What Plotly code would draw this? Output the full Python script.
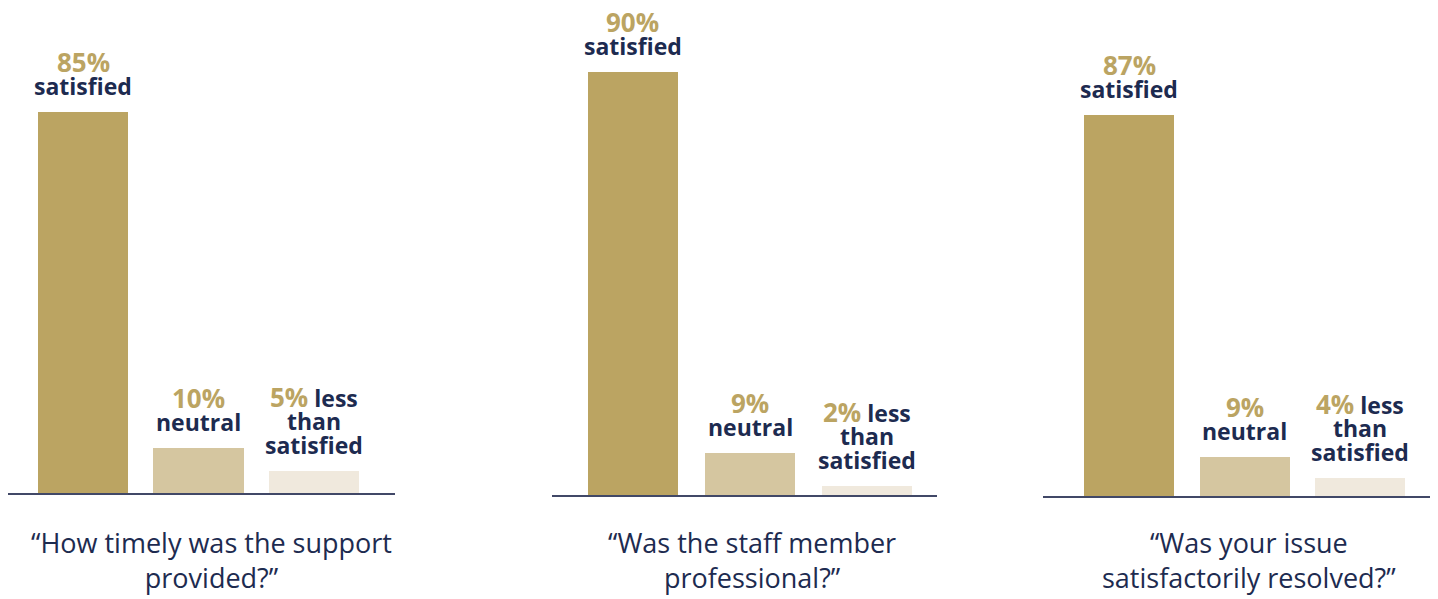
import plotly.graph_objects as go

W, H = 1438, 599

categories = ["satisfied", "neutral", "less than satisfied"]
panel_values = [
    [85, 10, 5],
    [90, 9, 2],
    [87, 9, 4],
]
pct_labels = [
    ["85%", "10%", "5%"],
    ["90%", "9%", "2%"],
    ["87%", "9%", "4%"],
]
questions = [
    "“How timely was the support<br>provided?”",
    "“Was the staff member<br>professional?”",
    "“Was your issue<br>satisfactorily resolved?”",
]

GOLD = "#BBA462"
MID = "#D5C6A0"
LIGHT = "#F0E9DD"
NAVY = "#1D2B50"
AXIS = "#414867"
bar_colors = [GOLD, MID, LIGHT]
FONT = "Open Sans"

# layout settings per panel (pixel geometry)
x_dom_px = [(8, 395), (552, 937), (1043, 1430)]
x_ranges = [(-0.649, 2.70), (-0.692, 2.598), (-0.745, 2.606)]
bar_w = [0.78, 0.769, 0.779]
base_px = [493.3, 495.0, 496.0]
px_per_pct = [4.49, 4.70, 4.38]
q_center_px = [211, 752, 1249]

fig = go.Figure()
annotations = []
for i in range(3):
    xa = "x" if i == 0 else f"x{i+1}"
    ya = "y" if i == 0 else f"y{i+1}"
    fig.add_trace(go.Bar(
        x=categories, y=panel_values[i], width=bar_w[i],
        marker=dict(color=bar_colors, line=dict(width=0)),
        xaxis=xa, yaxis=ya, showlegend=False, hoverinfo="skip",
    ))
    v = panel_values[i]
    # satisfied
    annotations.append(dict(x=categories[0], y=v[0], xref=xa, yref=ya,
        text="satisfied", showarrow=False, yanchor="middle", yshift=26,
        font=dict(family=FONT, size=23, color=NAVY, weight="bold")))
    annotations.append(dict(x=categories[0], y=v[0], xref=xa, yref=ya,
        text=pct_labels[i][0], showarrow=False, yanchor="middle", yshift=50,
        font=dict(family=FONT, size=26, color=GOLD, weight="bold")))
    # neutral
    annotations.append(dict(x=categories[1], y=v[1], xref=xa, yref=ya,
        text="neutral", showarrow=False, yanchor="middle", yshift=26,
        font=dict(family=FONT, size=23, color=NAVY, weight="bold")))
    annotations.append(dict(x=categories[1], y=v[1], xref=xa, yref=ya,
        text=pct_labels[i][1], showarrow=False, yanchor="middle", yshift=50,
        font=dict(family=FONT, size=26, color=GOLD, weight="bold")))
    # less than satisfied
    annotations.append(dict(x=categories[2], y=v[2], xref=xa, yref=ya,
        text="satisfied", showarrow=False, yanchor="middle", yshift=26,
        font=dict(family=FONT, size=23, color=NAVY, weight="bold")))
    annotations.append(dict(x=categories[2], y=v[2], xref=xa, yref=ya,
        text="than", showarrow=False, yanchor="middle", yshift=50,
        font=dict(family=FONT, size=23, color=NAVY, weight="bold")))
    annotations.append(dict(x=categories[2], y=v[2], xref=xa, yref=ya,
        text=f"<span style='color:{GOLD};font-size:26px'>{pct_labels[i][2]}</span> less",
        showarrow=False, yanchor="middle", yshift=74,
        font=dict(family=FONT, size=23, color=NAVY, weight="bold")))
    # question
    annotations.append(dict(x=q_center_px[i] / W, y=1 - 560 / H, xref="paper", yref="paper",
        text=questions[i], showarrow=False, xanchor="center", yanchor="middle",
        font=dict(family=FONT, size=27, color=NAVY)))

layout = dict(
    width=W, height=H, margin=dict(l=0, r=0, t=0, b=0),
    paper_bgcolor="white", plot_bgcolor="white",
    annotations=annotations, bargap=0,
)
for i in range(3):
    xk = "xaxis" if i == 0 else f"xaxis{i+1}"
    yk = "yaxis" if i == 0 else f"yaxis{i+1}"
    ya = "y" if i == 0 else f"y{i+1}"
    xa = "x" if i == 0 else f"x{i+1}"
    layout[xk] = dict(domain=[x_dom_px[i][0] / W, x_dom_px[i][1] / W], anchor=ya,
                      range=list(x_ranges[i]), showticklabels=False, ticks="",
                      showgrid=False, zeroline=False, showline=True,
                      linecolor=AXIS, linewidth=2, fixedrange=True)
    layout[yk] = dict(domain=[1 - base_px[i] / H, 1], anchor=xa,
                      range=[0, base_px[i] / px_per_pct[i]], visible=False,
                      showgrid=False, zeroline=False, fixedrange=True)

fig.update_layout(**layout)
fig.write_html("out.html", config={"displayModeBar": False})
